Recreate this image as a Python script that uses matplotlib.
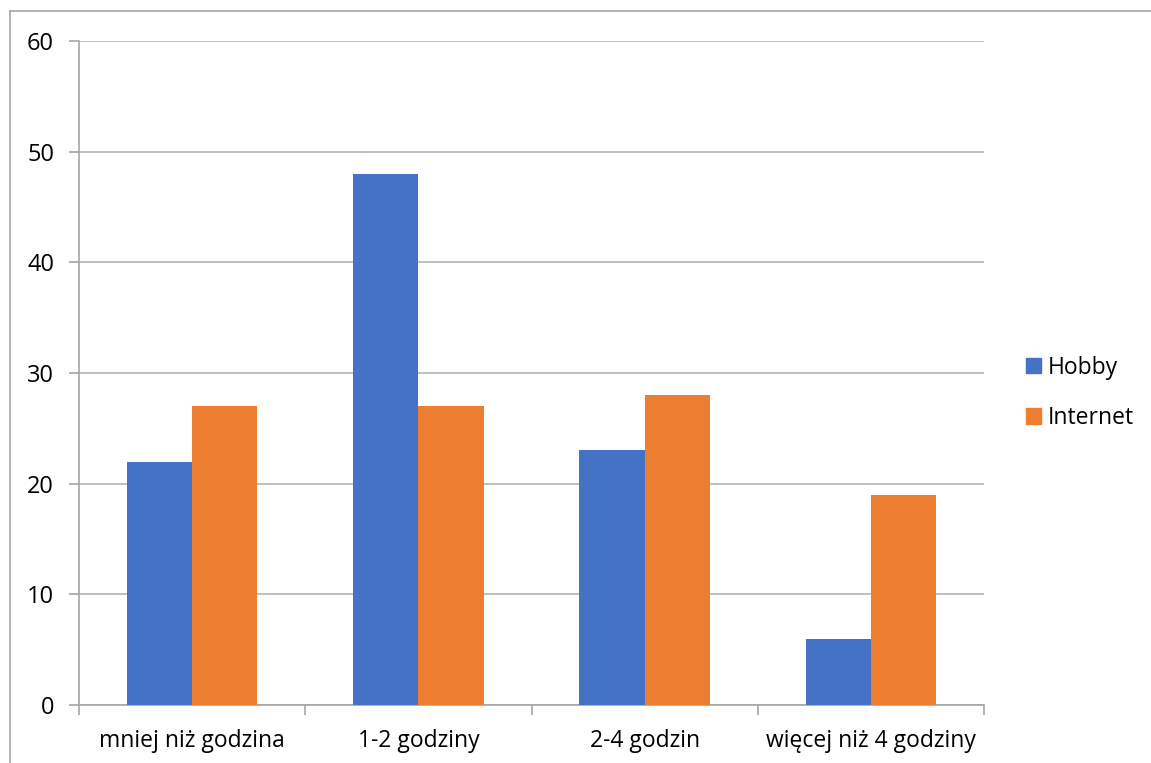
import matplotlib.pyplot as plt
import numpy as np
from matplotlib.lines import Line2D
from matplotlib.patches import Patch

categories = ['mniej niż godzina', '1-2 godziny', '2-4 godzin', 'więcej niż 4 godziny']
hobby = [22, 48, 23, 6]
internet = [27, 27, 28, 19]

plt.rcParams['font.family'] = ['Open Sans', 'DejaVu Sans']

W, H = 1151, 763
fig = plt.figure(figsize=(W / 100, H / 100), dpi=100)
ax = fig.add_axes([79 / W, 1 - 705 / H, (984 - 79) / W, (705 - 41) / H])

x = np.arange(len(categories))
bw = 0.288
ax.bar(x - bw / 2, hobby, bw, color='#4472c4', label='Hobby', zorder=3)
ax.bar(x + bw / 2, internet, bw, color='#ed7d31', label='Internet', zorder=3)

ax.set_xlim(-0.5, len(categories) - 0.5)
ax.set_ylim(0, 60)
ax.set_yticks(range(0, 61, 10))
ax.yaxis.grid(True, color='#b4b4b4', linewidth=1.2, zorder=0)

# x ticks on category boundaries, labels in the middle
ax.set_xticks(np.arange(-0.5, len(categories), 1))
ax.set_xticklabels([])
ax.set_xticks(x, minor=True)
ax.set_xticklabels(categories, minor=True)
ax.tick_params(axis='x', which='major', length=7, color='#a6a6a6', width=1.2)
ax.tick_params(axis='x', which='minor', length=0, pad=17, labelsize=16.5)
ax.tick_params(axis='y', length=7, color='#a6a6a6', width=1.2, pad=11, labelsize=17)

for s in ['top', 'right']:
    ax.spines[s].set_visible(False)
ax.spines['left'].set_color('#a6a6a6')
ax.spines['bottom'].set_color('#a6a6a6')
ax.spines['left'].set_linewidth(1.2)
ax.spines['bottom'].set_linewidth(1.2)

handles = [Patch(color='#4472c4'), Patch(color='#ed7d31')]
fig.legend(handles, ['Hobby', 'Internet'], loc='center left',
           bbox_to_anchor=(1005 / W, 1 - 393 / H), frameon=False,
           fontsize=16.5, handlelength=0.65, handleheight=0.65,
           handletextpad=0.3, labelspacing=1.15)

# outer chart border (only top/left visible)
fig.add_artist(Line2D([10 / W, 10 / W], [0, 1 - 11 / H], color='#a6a6a6', lw=1.2))
fig.add_artist(Line2D([10 / W, 1], [1 - 11 / H, 1 - 11 / H], color='#a6a6a6', lw=1.2))

fig.savefig('out.png', dpi=100)
